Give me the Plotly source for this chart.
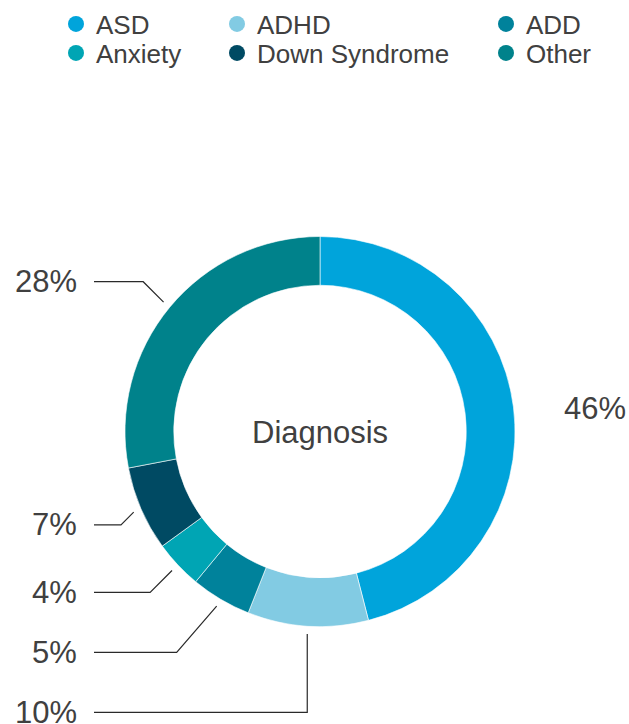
import math
import plotly.graph_objects as go

# ---- data ----
categories = ["ASD", "ADHD", "ADD", "Anxiety", "Down Syndrome", "Other"]
values = [46, 10, 5, 4, 7, 28]
colors = ["#00A4DB", "#82CBE3", "#00829B", "#00A5B4", "#004A63", "#00828B"]
center_title = "Diagnosis"
# legend grid: (row, column) of each category
legend_row = [0, 0, 0, 1, 1, 1]
legend_col = [0, 1, 2, 0, 1, 2]

# ---- layout constants (pixels) ----
W, H = 629, 724
CX, CY = 320, 431.5
R_OUT = 195
HOLE = 0.75
R_ANCHOR = 203
R_LABEL = 235
MIN_GAP = 60
LINE_END_X = 94
LABEL_RIGHT_X = 79
RIGHT_LABEL_X = 562
FONT = "Liberation Sans, Arial, sans-serif"
TXT = "#404040"
LEGEND_TEXT_X = [97, 258, 527]
LEGEND_ROW_Y = [25, 54]


def px_to_paper(x, y):
    return x / W, 1 - y / H


fig = go.Figure()

dom_x = [(CX - R_OUT) / W, (CX + R_OUT) / W]
dom_y = [1 - (CY + R_OUT) / H, 1 - (CY - R_OUT) / H]

fig.add_trace(go.Pie(
    labels=categories, values=values, sort=False, direction="clockwise",
    rotation=0, hole=HOLE, textinfo="none", hoverinfo="skip",
    showlegend=False,
    marker=dict(colors=colors, line=dict(color="white", width=0.6)),
    domain=dict(x=dom_x, y=dom_y),
))

# legend entries via dummy scatter traces (circle markers), one legend each
layout_legends = {}
for i, (nm, col) in enumerate(zip(categories, colors)):
    ln = "legend" if i == 0 else f"legend{i + 1}"
    fig.add_trace(go.Scatter(
        x=[0], y=[0], mode="markers", name=nm,
        marker=dict(symbol="circle", size=16, color=col),
        legend=ln, hoverinfo="skip",
    ))
    lx, ly = px_to_paper(LEGEND_TEXT_X[legend_col[i]] - 41,
                         LEGEND_ROW_Y[legend_row[i]] - 24.5)
    layout_legends[ln] = dict(
        x=lx, y=ly, xanchor="left", yanchor="top", orientation="v",
        font=dict(family=FONT, size=26, color=TXT),
        bgcolor="rgba(0,0,0,0)",
    )

# ---- outside labels with leader lines, computed from the data ----
total = sum(values)
cum = 0
items = []
for cat, v in zip(categories, values):
    mid = (cum + v / 2) / total * 2 * math.pi  # clockwise from top
    cum += v
    s, c = math.sin(mid), math.cos(mid)
    ax, ay = CX + R_ANCHOR * s, CY - R_ANCHOR * c
    items.append(dict(cat=cat, v=v, s=s, c=c, ax=ax, ay=ay,
                      ly=CY - R_LABEL * c))

shapes = []
annotations = []
left = sorted([it for it in items if it["s"] < 0], key=lambda d: d["ly"])
prev = -1e9
for it in left:
    it["ly"] = max(it["ly"], prev + MIN_GAP)
    prev = it["ly"]

for it in items:
    pct = f"{round(it['v'] / total * 100)}%"
    if it["s"] < 0:
        dy = it["ly"] - it["ay"]
        dx = min(abs(dy), max(0.0, abs(it["ax"] - CX) - 20) * 0.48)
        ex, ey = it["ax"] - dx, it["ly"]
        pts = [px_to_paper(it["ax"], it["ay"]), px_to_paper(ex, ey),
               px_to_paper(LINE_END_X, ey)]
        path = "M {} {} L {} {} L {} {}".format(
            pts[0][0], pts[0][1], pts[1][0], pts[1][1], pts[2][0], pts[2][1])
        shapes.append(dict(type="path", xref="paper", yref="paper", path=path,
                           line=dict(color="#2a2a2a", width=1.2)))
        tx, ty = px_to_paper(LABEL_RIGHT_X, it["ly"])
        annotations.append(dict(x=tx, y=ty, xref="paper", yref="paper",
                                text=pct, showarrow=False, xanchor="right",
                                yanchor="middle",
                                font=dict(family=FONT, size=31, color=TXT)))
    else:
        tx, ty = px_to_paper(RIGHT_LABEL_X, it["ay"] + 2)
        annotations.append(dict(x=tx, y=ty, xref="paper", yref="paper",
                                text=pct, showarrow=False, xanchor="left",
                                yanchor="middle",
                                font=dict(family=FONT, size=31, color=TXT)))

cx_p, cy_p = px_to_paper(CX, CY + 1)
annotations.append(dict(x=cx_p, y=cy_p, xref="paper", yref="paper",
                        text=center_title, showarrow=False,
                        xanchor="center", yanchor="middle",
                        font=dict(family=FONT, size=31, color=TXT)))

fig.update_layout(
    width=W, height=H, margin=dict(l=0, r=0, t=0, b=0),
    paper_bgcolor="white", plot_bgcolor="white",
    xaxis=dict(visible=False, range=[10, 11], fixedrange=True),
    yaxis=dict(visible=False, range=[10, 11], fixedrange=True),
    shapes=shapes, annotations=annotations, hovermode=False,
    showlegend=True,
    **layout_legends,
)

fig.write_html("out.html",
               config={"displayModeBar": False},
               post_script="document.body.style.margin='0';"
                           "document.body.style.overflow='hidden';")
